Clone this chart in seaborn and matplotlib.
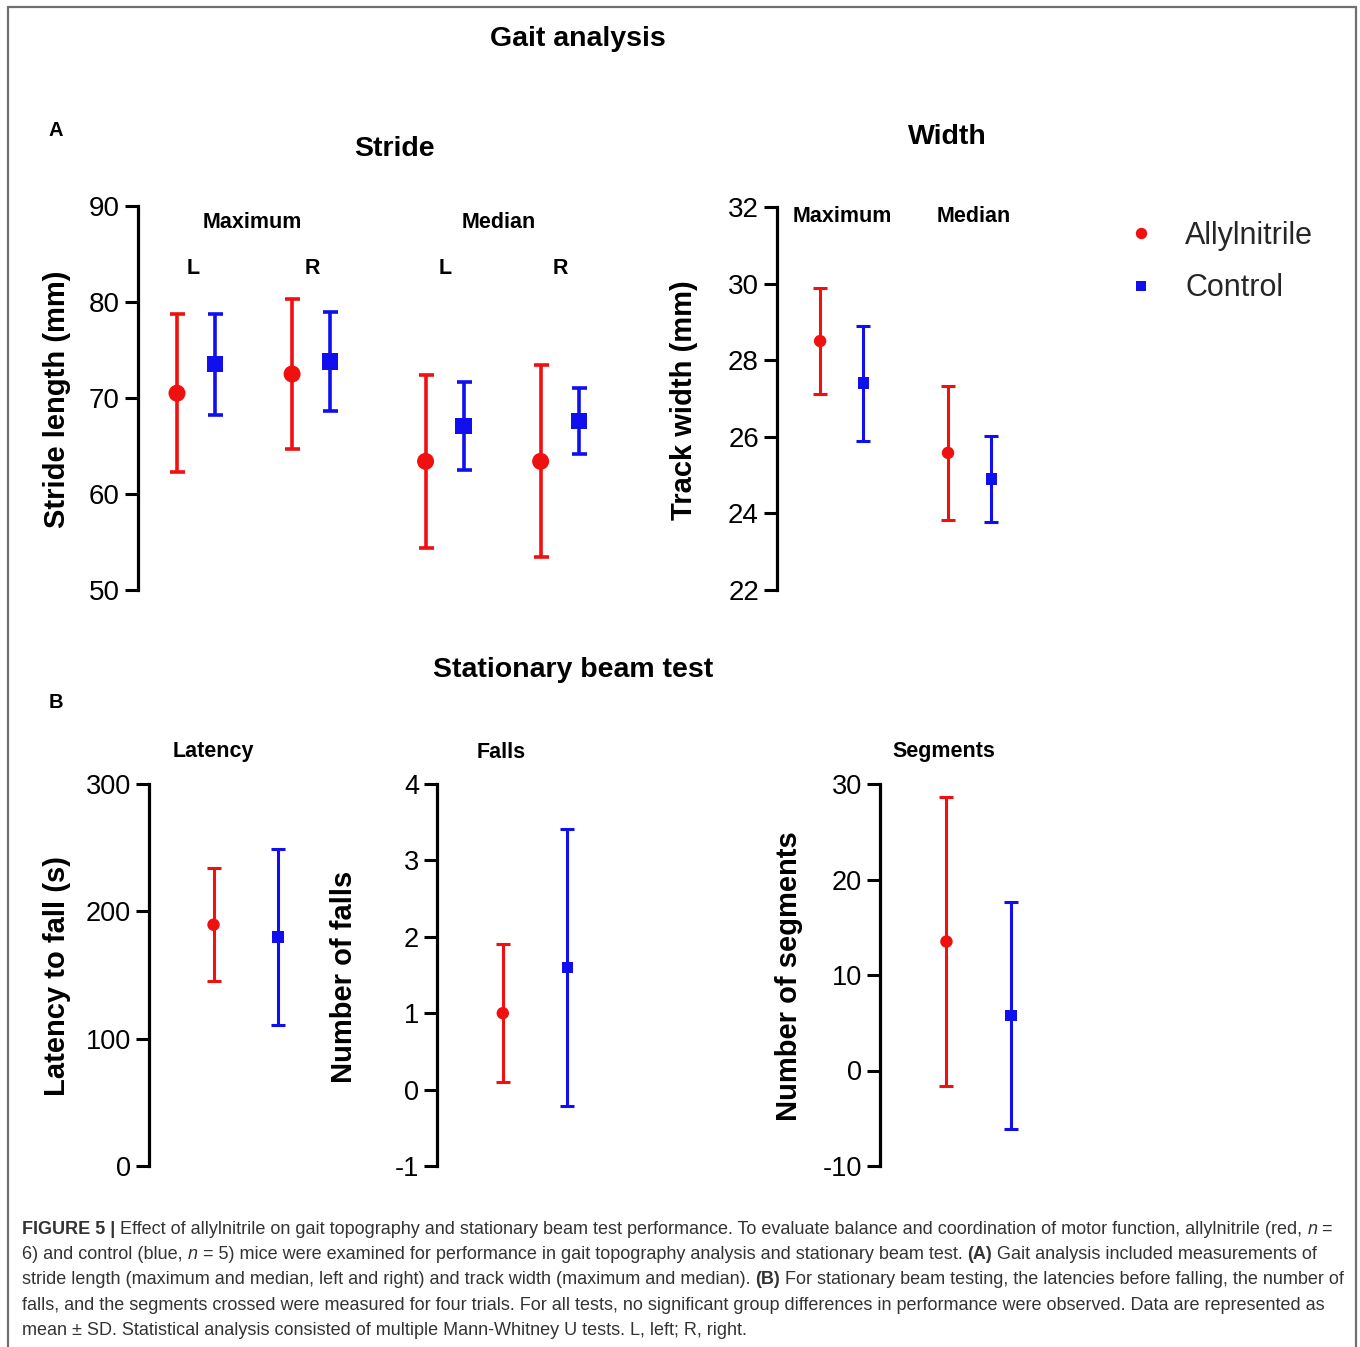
import numpy as np
import pandas as pd
import matplotlib
matplotlib.use('Agg')
import matplotlib.pyplot as plt
import seaborn as sns
from matplotlib.lines import Line2D

sns.set_theme(style='white')
plt.rcParams['font.family'] = ['Liberation Sans', 'DejaVu Sans']

# ---------------- data (mean, SD) ----------------
groups = ['Allylnitrile', 'Control']

stride_cats = ['Maximum L', 'Maximum R', 'Median L', 'Median R']
stride_ally_mean = [70.5, 72.5, 63.4, 63.4]
stride_ally_sd = [8.2, 7.8, 9.0, 10.0]
stride_ctrl_mean = [73.5, 73.8, 67.1, 67.6]
stride_ctrl_sd = [5.3, 5.2, 4.6, 3.4]

width_cats = ['Maximum', 'Median']
width_ally_mean = [28.5, 25.58]
width_ally_sd = [1.38, 1.75]
width_ctrl_mean = [27.4, 24.9]
width_ctrl_sd = [1.5, 1.12]

latency_ally = (189.5, 44.5)
latency_ctrl = (180.0, 69.0)
falls_ally = (1.0, 0.9)
falls_ctrl = (1.6, 1.81)
segments_ally = (13.5, 15.1)
segments_ctrl = (5.75, 11.85)

stride_ticks = [50, 60, 70, 80, 90]
width_ticks = [22, 24, 26, 28, 30, 32]
latency_ticks = [0, 100, 200, 300]
falls_ticks = [-1, 0, 1, 2, 3, 4]
segments_ticks = [-10, 0, 10, 20, 30]

colors = {'Allylnitrile': '#f01010', 'Control': '#1010ee'}
markers = {'Allylnitrile': 'o', 'Control': 's'}

# ---------------- figure ----------------
W, H = 1360, 1347
fig = plt.figure(figsize=(W / 100, H / 100), dpi=100)
fig.patch.set_facecolor('white')


def fx(x):
    return x / W


def fy(y):
    return 1 - y / H


def add_ax(left, top, right, bottom):
    return fig.add_axes([fx(left), fy(bottom), (right - left) / W, (bottom - top) / H])


def style_ax(ax, ticks, labelsize):
    ax.set_facecolor('none')
    for s in ['top', 'right', 'bottom']:
        ax.spines[s].set_visible(False)
    ax.spines['left'].set_linewidth(2.3)
    ax.spines['left'].set_color('black')
    ax.set_yticks(ticks)
    ax.set_yticklabels([str(t) for t in ticks])
    ax.set_ylim(ticks[0], ticks[-1])
    ax.tick_params(axis='y', left=True, length=9.5, width=2.2, color='black',
                   labelsize=labelsize, labelcolor='black', pad=3.5)
    ax.set_xticks([])
    ax.set_xlabel('')
    ax.set_ylabel('')
    ax.grid(False)


def draw_points(ax, xpos, dodge, a_mean, a_sd, c_mean, c_sd, s_o, s_s, lw, cap):
    xpos = np.asarray(xpos, dtype=float)
    df = pd.DataFrame({
        'x': np.concatenate([xpos - dodge, xpos + dodge]),
        'mean': list(a_mean) + list(c_mean),
        'sd': list(a_sd) + list(c_sd),
        'group': ['Allylnitrile'] * len(xpos) + ['Control'] * len(xpos),
    })
    for g in groups:
        d = df[df['group'] == g]
        ax.errorbar(d['x'], d['mean'], yerr=d['sd'], fmt='none', ecolor=colors[g],
                    elinewidth=lw, capsize=cap, capthick=lw, zorder=2)
    sns.scatterplot(data=df, x='x', y='mean', hue='group', style='group',
                    palette=colors, markers=markers, size='group',
                    sizes={'Allylnitrile': s_o, 'Control': s_s},
                    linewidth=0, legend=False, ax=ax, zorder=3)


bold = dict(fontweight='bold', color='black')

# ---------------- Panel A: Stride ----------------
ax1 = add_ax(138, 206, 616, 590)
stride_x = [0.0, 1.0, 2.16, 3.16]
draw_points(ax1, stride_x, 0.165, stride_ally_mean, stride_ally_sd,
            stride_ctrl_mean, stride_ctrl_sd, 150, 135, 2.6, 5.4)
ax1.set_xlim(-0.504, 3.65)
style_ax(ax1, stride_ticks, 20)

# ---------------- Panel A: Width ----------------
ax2 = add_ax(777, 207, 1040, 590)
width_x = [0.0, 1.0]
draw_points(ax2, width_x, 0.169, width_ally_mean, width_ally_sd,
            width_ctrl_mean, width_ctrl_sd, 80, 68, 2.2, 5.0)
ax2.set_xlim(-0.506, 1.55)
style_ax(ax2, width_ticks, 20)

# ---------------- Panel B ----------------
def single_panel(left, a, c, ticks, xl):
    ax = add_ax(left, 784, left + 200, 1166)
    draw_points(ax, [0.0], 0.5, [a[0]], [a[1]], [c[0]], [c[1]], 80, 68, 2.2, 5.0)
    ax.set_xlim(xl, xl + 3.1)
    style_ax(ax, ticks, 19.5)
    return ax

ax3 = single_panel(149, latency_ally, latency_ctrl, latency_ticks, -1.5)
ax4 = single_panel(437, falls_ally, falls_ctrl, falls_ticks, -1.52)
ax5 = single_panel(880, segments_ally, segments_ctrl, segments_ticks, -1.53)

# ---------------- axis labels ----------------
ylab = dict(rotation=90, ha='center', va='center', fontsize=21, **bold)
fig.text(fx(57), fy(399), 'Stride length (mm)', **ylab)
fig.text(fx(684), fy(400), 'Track width (mm)', **ylab)
fig.text(fx(57), fy(976), 'Latency to fall (s)', **ylab)
fig.text(fx(344), fy(977), 'Number of falls', **ylab)
fig.text(fx(789), fy(976), 'Number of segments', **ylab)

# ---------------- titles ----------------
tt = dict(ha='center', va='center', fontsize=20.5, **bold)
fig.text(fx(578), fy(39), 'Gait analysis', **tt)
fig.text(fx(394), fy(149), 'Stride', **tt)
fig.text(fx(947), fy(137), 'Width', **tt)
fig.text(fx(573), fy(670), 'Stationary beam test', **tt)
fig.text(fx(56), fy(131), 'A', ha='center', va='center', fontsize=14.5, **bold)
fig.text(fx(56), fy(703), 'B', ha='center', va='center', fontsize=14.5, **bold)

sub = dict(ha='center', va='center', fontsize=15.5, **bold)
for txt, x, y in [('Maximum', 252, 222), ('Median', 499, 222),
                  ('L', 193, 268), ('R', 312, 268), ('L', 445, 268), ('R', 560, 268),
                  ('Maximum', 842, 217), ('Median', 974, 217),
                  ('Latency', 213, 752), ('Falls', 501, 752), ('Segments', 944, 752)]:
    fig.text(fx(x), fy(y), txt, **sub)

# ---------------- legend ----------------
handles = [Line2D([], [], linestyle='none', marker=markers[g], color=colors[g],
                  markersize=(8.2 if g == 'Allylnitrile' else 7.4), markeredgewidth=0)
           for g in groups]
fig.legend(handles, groups, loc='center left', bbox_to_anchor=(fx(1126), fy(262)),
           bbox_transform=fig.transFigure, frameon=False, borderpad=0, borderaxespad=0,
           handlelength=1.0, handletextpad=0.94, labelspacing=0.75, fontsize=22)

# ---------------- border ----------------
bc = '#707070'
fig.add_artist(Line2D([fx(7.5), fx(1355.5)], [fy(6.5), fy(6.5)], color=bc, lw=1.6,
                      transform=fig.transFigure))
fig.add_artist(Line2D([fx(7.5), fx(7.5)], [fy(6.5), fy(1350)], color=bc, lw=1.6,
                      transform=fig.transFigure))
fig.add_artist(Line2D([fx(1355.5), fx(1355.5)], [fy(6.5), fy(1350)], color=bc, lw=1.6,
                      transform=fig.transFigure))

# ---------------- caption ----------------
capcol = '#333333'
cap_size = 12.95
renderer = fig.canvas.get_renderer()

caption_lines = [
    [('FIGURE 5 |', 'bold', 'normal'),
     (' Effect of allylnitrile on gait topography and stationary beam test performance. '
      'To evaluate balance and coordination of motor function, allylnitrile (red, ', 'normal', 'normal'),
     ('n', 'normal', 'italic'), (' =', 'normal', 'normal')],
    [('6) and control (blue, ', 'normal', 'normal'), ('n', 'normal', 'italic'),
     (' = 5) mice were examined for performance in gait topography analysis and stationary beam test. ',
      'normal', 'normal'),
     ('(A)', 'bold', 'normal'),
     (' Gait analysis included measurements of', 'normal', 'normal')],
    [('stride length (maximum and median, left and right) and track width (maximum and median). ',
      'normal', 'normal'),
     ('(B)', 'bold', 'normal'),
     (' For stationary beam testing, the latencies before falling, the number of', 'normal', 'normal')],
    [('falls, and the segments crossed were measured for four trials. For all tests, no significant '
      'group differences in performance were observed. Data are represented as', 'normal', 'normal')],
    [('mean \u00b1 SD. Statistical analysis consisted of multiple Mann-Whitney U tests. L, left; R, right.',
      'normal', 'normal')],
]
baselines = [1234, 1259, 1284, 1310, 1335]
for runs, yb in zip(caption_lines, baselines):
    x = 22.0
    for text, weight, style in runs:
        t = fig.text(fx(x), fy(yb), text, fontsize=cap_size, fontweight=weight,
                     fontstyle=style, color=capcol, ha='left', va='baseline')
        bb = t.get_window_extent(renderer=renderer)
        x = bb.x1

fig.savefig('out.png', dpi=100, facecolor='white')
